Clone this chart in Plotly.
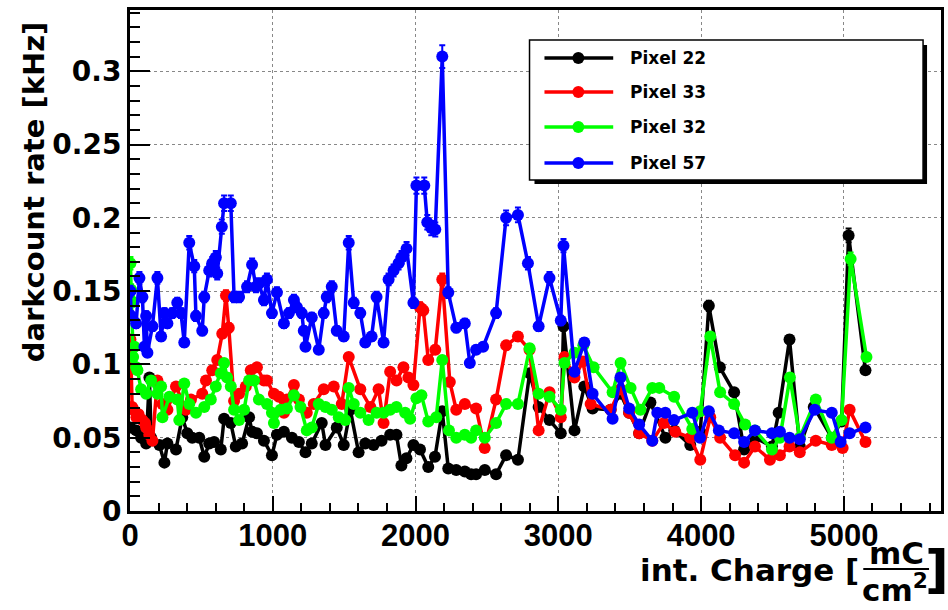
import plotly.graph_objects as go

# ---------------- data (int. charge in mC/cm^2, darkcount rate in kHz) ----------------
x_pix22 = [3, 43, 78, 113, 136, 148, 206, 241, 262, 322, 366, 401, 436, 485, 520, 555, 589, 636, 659,
           706, 741, 785, 834, 855, 889, 938, 994, 1029, 1078, 1134, 1183, 1229, 1273, 1343, 1369, 1448,
           1497, 1543, 1601, 1648, 1706, 1762, 1822, 1866, 1901, 1936, 1985, 2031, 2089, 2136, 2187, 2229,
           2285, 2345, 2389, 2424, 2485, 2564, 2634, 2717, 2799, 2862, 2938, 3017, 3036, 3113, 3182, 3240,
           3366, 3436, 3496, 3566, 3645, 3750, 3812, 3924, 3994, 4054, 4131, 4231, 4301, 4377, 4496, 4543,
           4619, 4691, 4789, 4915, 4984, 5033, 5151]
y_pix22 = [0.057, 0.055, 0.050, 0.046, 0.091, 0.050, 0.045, 0.033, 0.046, 0.042, 0.064, 0.053, 0.050, 0.050,
           0.037, 0.046, 0.047, 0.042, 0.063, 0.060, 0.044, 0.046, 0.064, 0.054, 0.053, 0.048, 0.038, 0.052,
           0.054, 0.050, 0.047, 0.040, 0.046, 0.060, 0.045, 0.057, 0.045, 0.069, 0.040, 0.046, 0.045, 0.048,
           0.052, 0.052, 0.031, 0.036, 0.045, 0.042, 0.030, 0.037, 0.068, 0.029, 0.028, 0.027, 0.025, 0.025,
           0.028, 0.025, 0.038, 0.035, 0.094, 0.071, 0.062, 0.053, 0.126, 0.055, 0.085, 0.070, 0.069, 0.080,
           0.067, 0.053, 0.074, 0.050, 0.055, 0.045, 0.054, 0.140, 0.098, 0.081, 0.042, 0.050, 0.044, 0.067,
           0.117, 0.044, 0.071, 0.050, 0.061, 0.188, 0.096]

x_pix33 = [3, 8, 15, 25, 45, 60, 87, 105, 113, 135, 157, 192, 227, 262, 322, 392, 427, 506, 532, 576, 611,
           646, 672, 692, 729, 764, 811, 846, 889, 938, 959, 1008, 1043, 1078, 1099, 1148, 1183, 1238, 1287,
           1357, 1427, 1483, 1532, 1613, 1683, 1741, 1776, 1822, 1867, 1915, 1950, 1985, 2031, 2054, 2089,
           2138, 2187, 2240, 2285, 2345, 2424, 2484, 2564, 2634, 2717, 2798, 2862, 2938, 3017, 3043, 3113,
           3172, 3226, 3366, 3435, 3496, 3566, 3658, 3740, 3819, 3924, 3994, 4064, 4133, 4238, 4301, 4377,
           4482, 4552, 4619, 4691, 4803, 4915, 4991, 5040, 5151]
y_pix33 = [0.117, 0.101, 0.071, 0.069, 0.064, 0.066, 0.062, 0.060, 0.057, 0.052, 0.048, 0.089, 0.073, 0.069,
           0.085, 0.069, 0.076, 0.080, 0.089, 0.096, 0.103, 0.121, 0.147, 0.125, 0.075, 0.080, 0.085, 0.096,
           0.098, 0.089, 0.089, 0.080, 0.078, 0.067, 0.076, 0.086, 0.076, 0.067, 0.073, 0.083, 0.085, 0.073,
           0.105, 0.083, 0.071, 0.083, 0.060, 0.095, 0.089, 0.098, 0.091, 0.086, 0.139, 0.137, 0.103, 0.110,
           0.158, 0.088, 0.069, 0.073, 0.070, 0.043, 0.076, 0.113, 0.119, 0.110, 0.055, 0.081, 0.064, 0.105,
           0.091, 0.102, 0.073, 0.069, 0.083, 0.067, 0.053, 0.048, 0.060, 0.054, 0.050, 0.035, 0.064, 0.050,
           0.038, 0.033, 0.044, 0.035, 0.038, 0.044, 0.040, 0.048, 0.045, 0.043, 0.069, 0.047]

x_pix32 = [3, 8, 15, 22, 31, 43, 52, 78, 113, 148, 192, 218, 227, 276, 331, 345, 380, 415, 462, 520, 566,
           601, 636, 659, 680, 706, 729, 764, 799, 834, 869, 903, 959, 994, 1008, 1055, 1099, 1148, 1194,
           1238, 1273, 1322, 1369, 1413, 1462, 1508, 1532, 1567, 1613, 1671, 1727, 1776, 1822, 1866, 1927,
           1962, 2006, 2041, 2089, 2145, 2187, 2234, 2285, 2345, 2389, 2424, 2485, 2564, 2634, 2717, 2799,
           2862, 2938, 3017, 3043, 3113, 3175, 3247, 3380, 3436, 3506, 3575, 3658, 3707, 3811, 3938, 3994,
           4064, 4133, 4231, 4308, 4377, 4496, 4552, 4622, 4691, 4803, 4915, 4984, 5047, 5158]
y_pix32 = [0.169, 0.151, 0.143, 0.105, 0.112, 0.098, 0.096, 0.083, 0.080, 0.089, 0.080, 0.085, 0.064, 0.078,
           0.076, 0.062, 0.087, 0.073, 0.067, 0.071, 0.076, 0.085, 0.094, 0.101, 0.091, 0.085, 0.069, 0.062,
           0.069, 0.089, 0.089, 0.076, 0.073, 0.067, 0.060, 0.069, 0.070, 0.079, 0.071, 0.055, 0.057, 0.073,
           0.071, 0.069, 0.064, 0.062, 0.084, 0.073, 0.067, 0.062, 0.067, 0.067, 0.069, 0.071, 0.067, 0.063,
           0.077, 0.079, 0.061, 0.064, 0.103, 0.055, 0.050, 0.052, 0.050, 0.055, 0.050, 0.060, 0.073, 0.073,
           0.111, 0.080, 0.078, 0.069, 0.101, 0.108, 0.113, 0.098, 0.081, 0.101, 0.084, 0.069, 0.084, 0.084,
           0.078, 0.056, 0.068, 0.119, 0.081, 0.073, 0.059, 0.055, 0.042, 0.050, 0.091, 0.050, 0.076, 0.050,
           0.062, 0.172, 0.105]

x_pix57 = [3, 8, 43, 66, 87, 101, 113, 122, 157, 192, 218, 241, 262, 296, 331, 357, 380, 415, 450, 462, 506,
           520, 555, 576, 601, 611, 643, 659, 706, 729, 764, 820, 855, 882, 903, 938, 959, 994, 1029, 1078,
           1113, 1148, 1169, 1203, 1217, 1229, 1273, 1322, 1357, 1378, 1413, 1448, 1497, 1532, 1567, 1613,
           1648, 1692, 1727, 1776, 1811, 1846, 1881, 1902, 1937, 1985, 2006, 2061, 2082, 2110, 2138, 2187,
           2229, 2285, 2345, 2380, 2424, 2473, 2564, 2634, 2717, 2787, 2862, 2938, 3017, 3036, 3113, 3182,
           3240, 3380, 3435, 3496, 3566, 3658, 3693, 3749, 3810, 3938, 3992, 4054, 4124, 4231, 4301, 4377,
           4496, 4552, 4619, 4691, 4796, 4915, 4977, 5040, 5151]
y_pix57 = [0.150, 0.133, 0.128, 0.159, 0.146, 0.112, 0.133, 0.108, 0.126, 0.159, 0.119, 0.135, 0.128, 0.135,
           0.142, 0.135, 0.115, 0.183, 0.167, 0.133, 0.123, 0.146, 0.164, 0.169, 0.173, 0.162, 0.194, 0.210,
           0.210, 0.146, 0.146, 0.153, 0.168, 0.153, 0.155, 0.144, 0.158, 0.135, 0.149, 0.128, 0.135, 0.144,
           0.139, 0.135, 0.123, 0.112, 0.132, 0.110, 0.135, 0.146, 0.153, 0.123, 0.119, 0.183, 0.142, 0.135,
           0.115, 0.119, 0.146, 0.115, 0.158, 0.164, 0.169, 0.173, 0.179, 0.142, 0.222, 0.222, 0.197, 0.193,
           0.192, 0.310, 0.149, 0.125, 0.128, 0.101, 0.110, 0.112, 0.135, 0.200, 0.202, 0.169, 0.126, 0.159,
           0.130, 0.181, 0.095, 0.115, 0.080, 0.063, 0.091, 0.070, 0.059, 0.048, 0.067, 0.067, 0.062, 0.067,
           0.050, 0.068, 0.055, 0.053, 0.047, 0.055, 0.053, 0.054, 0.050, 0.049, 0.069, 0.067, 0.047, 0.053,
           0.057]

series_names = ["Pixel 22", "Pixel 33", "Pixel 32", "Pixel 57"]
series_x = [x_pix22, x_pix33, x_pix32, x_pix57]
series_y = [y_pix22, y_pix33, y_pix32, y_pix57]
series_colors = ["#000000", "#FF0000", "#00FF00", "#0000FF"]

x_range = [0, 5680]
y_range = [0, 0.3418]

# ---------------- figure ----------------
W, H = 948, 610
L, R, T, B = 130, 4, 10, 99
PW, PH = W - L - R, H - T - B


def px(xp):
    return (xp - L) / PW


def py(yp):
    return (H - B - yp) / PH


fig = go.Figure()
for name, xs, ys, col in zip(series_names, series_x, series_y, series_colors):
    fig.add_trace(go.Scatter(
        x=xs, y=ys, name=name, mode="lines+markers",
        line=dict(color=col, width=3.5),
        marker=dict(color=col, size=12, symbol="circle"),
        error_y=dict(type="percent", value=2.5, color=col, thickness=2, width=3),
    ))

bold_dv = dict(family="DejaVu Sans", weight="bold", color="black")
bold_lib = dict(family="Liberation Sans", weight="bold", color="black")

fig.update_layout(
    width=W, height=H,
    margin=dict(l=L, r=R, t=T, b=B, pad=0),
    paper_bgcolor="white", plot_bgcolor="white",
    showlegend=False,
    xaxis=dict(
        range=x_range, tick0=0, dtick=1000, ticks="inside", ticklen=15, tickwidth=2,
        tickcolor="black", ticklabelstandoff=-5,
        minor=dict(dtick=200, ticks="inside", ticklen=8, tickwidth=1.5, tickcolor="black", showgrid=False),
        showline=True, linewidth=2.5, linecolor="black", mirror=True,
        showgrid=True, gridcolor="#888888", griddash="dot", gridwidth=1,
        zeroline=False, tickfont=dict(size=31, **bold_lib),
    ),
    yaxis=dict(
        range=y_range, tick0=0, dtick=0.05, ticks="inside", ticklen=20, tickwidth=2,
        tickcolor="black",
        minor=dict(dtick=0.01, ticks="inside", ticklen=10, tickwidth=1.5, tickcolor="black", showgrid=False),
        showline=True, linewidth=3, linecolor="black", mirror=True,
        showgrid=True, gridcolor="#888888", griddash="dot", gridwidth=1,
        zeroline=False, tickfont=dict(size=28, **bold_dv),
    ),
)

shapes = []
annotations = []

# ----- legend (drawn by hand to match the wide framed box) -----
lx0, lx1, ly0, ly1 = 531, 926, 40, 180
shapes.append(dict(type="rect", xref="paper", yref="paper", layer="above",
                   x0=px(lx0 + 5), x1=px(lx1 + 4), y0=py(ly1 + 4), y1=py(ly0 + 5),
                   fillcolor="black", line=dict(width=0)))
shapes.append(dict(type="rect", xref="paper", yref="paper", layer="above",
                   x0=px(lx0), x1=px(lx1), y0=py(ly1), y1=py(ly0),
                   fillcolor="white", line=dict(color="black", width=1.5)))
entry_y = [58, 92, 127, 163]
for name, col, ey in zip(series_names, series_colors, entry_y):
    shapes.append(dict(type="line", xref="paper", yref="paper", layer="above",
                       x0=px(546), x1=px(615), y0=py(ey), y1=py(ey),
                       line=dict(color=col, width=3.5)))
    r = 6
    shapes.append(dict(type="circle", xref="paper", yref="paper", layer="above",
                       x0=px(580 - r), x1=px(580 + r), y0=py(ey + r), y1=py(ey - r),
                       fillcolor=col, line=dict(color=col, width=0)))
    annotations.append(dict(text=name, xref="paper", yref="paper", x=px(630), y=py(ey),
                            xanchor="left", yanchor="middle", showarrow=False,
                            font=dict(size=17, **bold_dv)))

# ----- axis titles -----
annotations.append(dict(text="darkcount rate [kHz]", xref="paper", yref="paper",
                        x=px(34), y=py(192), textangle=-90, xanchor="center", yanchor="middle",
                        showarrow=False, font=dict(size=29, **bold_dv)))
annotations.append(dict(text="int. Charge [", xref="paper", yref="paper",
                        x=px(864), y=py(570), xanchor="right", yanchor="middle",
                        showarrow=False, font=dict(size=31, **bold_dv)))
annotations.append(dict(text="mC", xref="paper", yref="paper",
                        x=px(899), y=py(553), xanchor="center", yanchor="middle",
                        showarrow=False, font=dict(size=31, **bold_dv)))
annotations.append(dict(text="cm<sup>2</sup>", xref="paper", yref="paper",
                        x=px(898), y=py(588), xanchor="center", yanchor="middle",
                        showarrow=False, font=dict(size=31, **bold_dv)))
annotations.append(dict(text="]", xref="paper", yref="paper",
                        x=px(940), y=py(569), xanchor="center", yanchor="middle",
                        showarrow=False, font=dict(size=52, **bold_dv)))
shapes.append(dict(type="line", xref="paper", yref="paper",
                   x0=px(866), x1=px(932), y0=py(569), y1=py(569),
                   line=dict(color="black", width=2)))

fig.update_layout(shapes=shapes, annotations=annotations)

fig.write_html("out.html")
